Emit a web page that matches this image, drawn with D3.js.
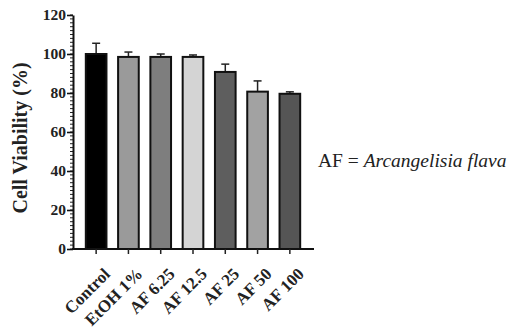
<!DOCTYPE html>
<html>
<head>
<meta charset="utf-8">
<script src="https://cdn.jsdelivr.net/npm/d3@7"></script>
<style>
body { margin: 0; background: #fff; }
</style>
</head>
<body>
<script>
var groups = ["Control", "EtOH 1%", "AF 6.25", "AF 12.5", "AF 25", "AF 50", "AF 100"],
    viability = [100, 98.5, 98.5, 98.5, 90.8, 80.7, 79.6],
    errUp = [5.5, 2.5, 1.5, 1, 4, 5.5, 1],
    barFill = ["#000000", "#9a9a9a", "#7e7e7e", "#d4d4d4", "#5e5e5e", "#a2a2a2", "#555555"],
    yTicks = [0, 20, 40, 60, 80, 100, 120];

var width = 512, height = 330,
    x0 = 73, x1 = 314, yTop = 15, yBot = 249,
    serif = "Liberation Serif";

var svg = d3.select("body").append("svg")
    .attr("width", width)
    .attr("height", height);

var x = d3.scaleBand().domain(groups).range([x0 + 7, x1 - 8]).paddingInner(0.36).paddingOuter(0.18);
var y = d3.scaleLinear().domain([0, 120]).range([yBot, yTop]);

// minor ticks every 2
svg.append("g").selectAll("line")
    .data(d3.range(0, 121, 2))
    .enter().append("line")
    .attr("x1", x0 - 3).attr("x2", x0)
    .attr("y1", function(d) { return y(d); })
    .attr("y2", function(d) { return y(d); })
    .attr("stroke", "#222").attr("stroke-width", 1);

var yAxis = svg.append("g")
    .attr("transform", "translate(" + x0 + ",0)")
    .call(d3.axisLeft(y).tickValues(yTicks).tickSize(6).tickPadding(1).tickSizeOuter(0));
yAxis.select(".domain").attr("stroke", "#111").attr("stroke-width", 2);
yAxis.selectAll(".tick line").attr("stroke", "#111").attr("stroke-width", 1.6);
yAxis.selectAll(".tick text")
    .attr("font-family", serif).attr("font-size", 15.5).attr("font-weight", "bold").attr("fill", "#222");

// error bars
var eb = svg.append("g").selectAll("g")
    .data(groups)
    .enter().append("g");
eb.append("line")
    .attr("x1", function(d) { return x(d) + x.bandwidth() / 2; })
    .attr("x2", function(d) { return x(d) + x.bandwidth() / 2; })
    .attr("y1", function(d, i) { return y(viability[i]); })
    .attr("y2", function(d, i) { return y(viability[i] + errUp[i]); })
    .attr("stroke", "#222").attr("stroke-width", 1.5);
eb.append("line")
    .attr("x1", function(d) { return x(d) + x.bandwidth() / 2 - 4; })
    .attr("x2", function(d) { return x(d) + x.bandwidth() / 2 + 4; })
    .attr("y1", function(d, i) { return y(viability[i] + errUp[i]); })
    .attr("y2", function(d, i) { return y(viability[i] + errUp[i]); })
    .attr("stroke", "#222").attr("stroke-width", 1.5);

// bars
svg.append("g").selectAll("rect")
    .data(groups)
    .enter().append("rect")
    .attr("x", function(d) { return x(d); })
    .attr("y", function(d, i) { return y(viability[i]); })
    .attr("width", x.bandwidth())
    .attr("height", function(d, i) { return yBot - y(viability[i]); })
    .attr("fill", function(d, i) { return barFill[i]; })
    .attr("stroke", "#111").attr("stroke-width", 2);

var xAxis = svg.append("g")
    .attr("transform", "translate(0," + yBot + ")")
    .call(d3.axisBottom(x).tickSize(5).tickSizeOuter(0));
xAxis.select(".domain").attr("d", "M" + (x0 - 1) + ",0H" + x1).attr("stroke", "#111").attr("stroke-width", 2);
xAxis.selectAll(".tick line").attr("stroke", "#222").attr("stroke-width", 1.5);
xAxis.selectAll(".tick text")
    .attr("text-anchor", "end")
    .attr("dx", "0").attr("dy", "0.7em")
    .attr("transform", "translate(1,12) rotate(-45)")
    .attr("font-family", serif).attr("font-size", 17).attr("font-weight", "bold").attr("fill", "#222");

svg.append("text")
    .attr("transform", "translate(27," + 138 + ") rotate(-90)")
    .attr("text-anchor", "middle")
    .attr("font-family", serif).attr("font-size", 20).attr("font-weight", "bold").attr("fill", "#222")
    .text("Cell Viability (%)");

var note = svg.append("text")
    .attr("x", 318).attr("y", 167)
    .attr("font-family", serif).attr("font-size", 19.5).attr("fill", "#222");
note.append("tspan").text("AF = ");
note.append("tspan").attr("font-style", "italic").text("Arcangelisia flava");
</script>
</body>
</html>
